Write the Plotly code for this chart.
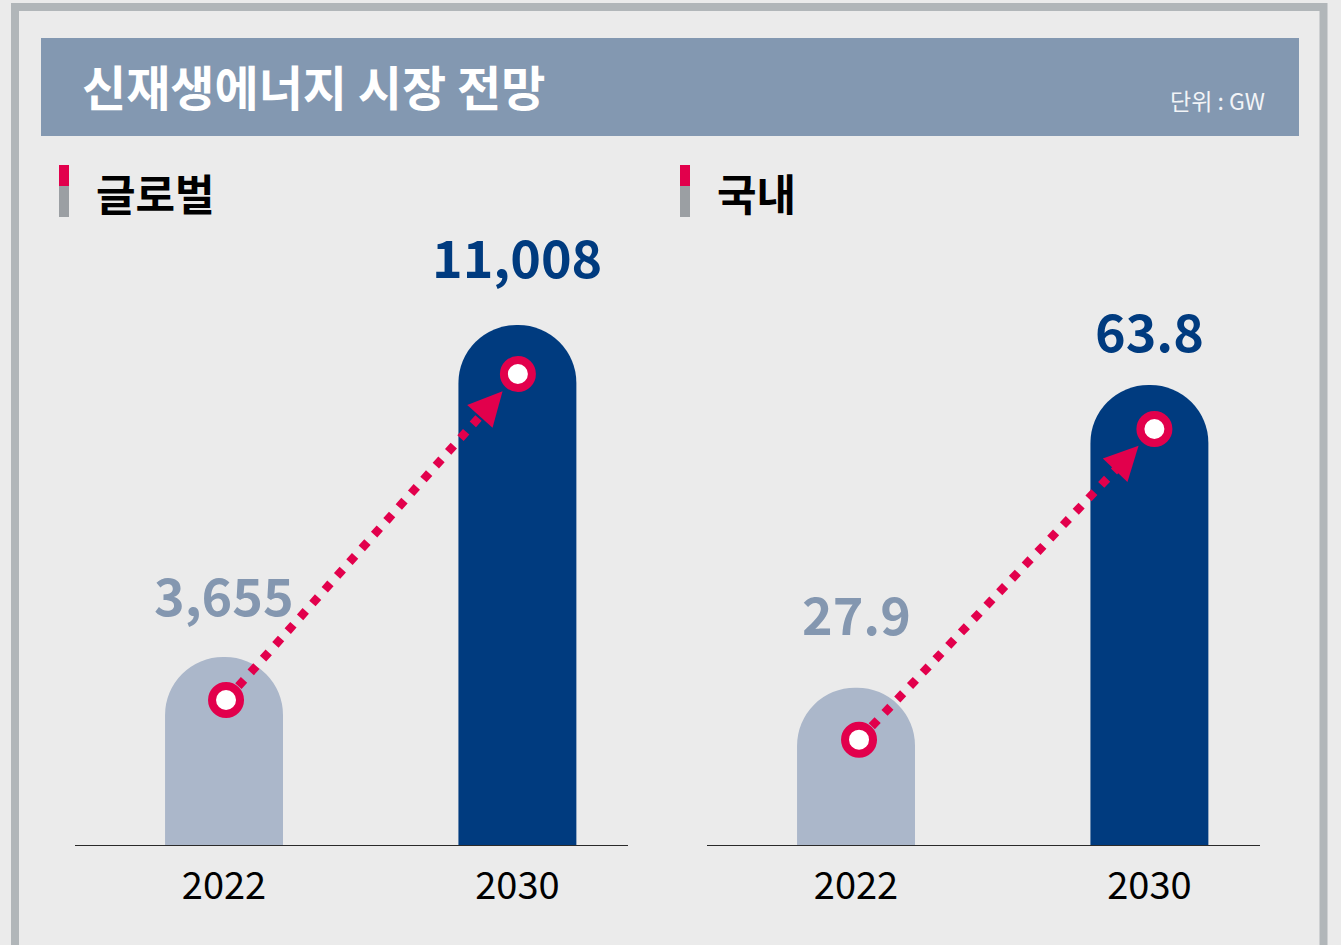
import math
import plotly.graph_objects as go

# ---------------- data ----------------
years = ["2022", "2030"]
global_values = [3655, 11008]
domestic_values = [27.9, 63.8]
global_labels = ["3,655", "11,008"]
domestic_labels = ["27.9", "63.8"]
panel_titles = ["글로벌", "국내"]
chart_title = "신재생에너지 시장 전망"
unit_label = "단위 : GW"

# ---------------- style / geometry ----------------
W, H = 1341, 945
FONT = "Noto Sans CJK KR"
BG = "#ebebeb"
FRAME = "#b1b6b9"
BANNER = "#8398b1"
NAVY = "#003b7f"
LIGHT_BAR = "#abb7ca"
LIGHT_TEXT = "#8497b0"
RED = "#e2004c"
GRAY_MARK = "#9b9fa3"

PLOT_TOP_PX, PLOT_BOT_PX = 230, 845
X_DOMAIN_PX = [(75, 628), (707, 1260)]
X_RANGE = [-0.508, 1.377]
BAR_W = 0.402
# axis floors chosen so bars reproduce the original (non-proportional) drawing
Y_FLOOR = [-509.0, 9.24]
MAX_TOP_PX = [325, 385]
LABEL_SHIFT = [[63, 70], [75, 56]]
RING_DROP = [[43, 49], [52, 44]]
RING_DX = [[2, 0.5], [3, 5]]
RING_SIZE, RING_LINE = 28, 8
STANDOFF = 23
HEAD = 27
DOT_W = 8.5


def fx(px):
    return px / W


def fy(py):
    return 1 - py / H


fig = go.Figure()
annotations = []
shapes = []

# frame and banner
shapes.append(dict(type="rect", xref="paper", yref="paper", x0=fx(15), x1=fx(1323.5), y0=fy(7), y1=fy(960),
                   line=dict(color=FRAME, width=8), fillcolor=BG, layer="below"))
shapes.append(dict(type="rect", xref="paper", yref="paper", x0=fx(41), x1=fx(1299), y0=fy(38), y1=fy(136),
                   line=dict(width=0), fillcolor=BANNER, layer="below"))
annotations.append(dict(xref="paper", yref="paper", x=fx(80), y=fy(85), xanchor="left", yanchor="middle",
                        text=chart_title, showarrow=False,
                        font=dict(family=FONT, size=48, color="white", weight="bold")))
annotations.append(dict(xref="paper", yref="paper", x=fx(1267), y=fy(100), xanchor="right", yanchor="middle",
                        text=unit_label, showarrow=False,
                        font=dict(family=FONT, size=23, color="#f2f4f7")))

panels = [(global_values, global_labels), (domestic_values, domestic_labels)]
heading_x = [(59, 97), (680, 718)]

for p, (vals, labels) in enumerate(panels):
    xa = "x" if p == 0 else "x2"
    ya = "y" if p == 0 else "y2"
    a, b = X_DOMAIN_PX[p]
    floor = Y_FLOOR[p]
    scale = (PLOT_BOT_PX - MAX_TOP_PX[p]) / (max(vals) - floor)  # px per unit
    y_top = floor + (PLOT_BOT_PX - PLOT_TOP_PX) / scale
    xunit = (X_RANGE[1] - X_RANGE[0]) / (b - a)  # data units per px
    xs = list(range(len(years)))
    # bars start well below the visible floor so only their top ends show rounded
    base = floor - 120 / scale

    # heading
    mx, tx = heading_x[p]
    shapes.append(dict(type="rect", xref="paper", yref="paper", x0=fx(mx), x1=fx(mx + 10), y0=fy(165), y1=fy(186),
                       line=dict(width=0), fillcolor=RED, layer="below"))
    shapes.append(dict(type="rect", xref="paper", yref="paper", x0=fx(mx), x1=fx(mx + 10), y0=fy(186), y1=fy(217),
                       line=dict(width=0), fillcolor=GRAY_MARK, layer="below"))
    annotations.append(dict(xref="paper", yref="paper", x=fx(tx - 3), y=fy(192), xanchor="left", yanchor="middle",
                            text=panel_titles[p], showarrow=False,
                            font=dict(family=FONT, size=43, color="black", weight="bold")))

    # bars
    fig.add_trace(go.Bar(x=xs, y=[v - base for v in vals], base=[base] * len(vals), width=BAR_W,
                         marker=dict(color=[LIGHT_BAR, NAVY], cornerradius="50%", line=dict(width=0)),
                         xaxis=xa, yaxis=ya, hoverinfo="skip", showlegend=False))

    # ring positions
    ring_x = [x + d * xunit for x, d in zip(xs, RING_DX[p])]
    ring_y = [v - d / scale for v, d in zip(vals, RING_DROP[p])]
    sx = [a + (x - X_RANGE[0]) / xunit for x in ring_x]
    sy = [PLOT_BOT_PX - (y - floor) * scale for y in ring_y]
    dx, dy = sx[1] - sx[0], sy[1] - sy[0]
    L = math.hypot(dx, dy)
    ux, uy = dx / L, dy / L
    back = STANDOFF + HEAD - 2
    end_x = ring_x[1] - ux * back * xunit
    end_y = ring_y[1] + uy * back / scale

    # dotted connector
    fig.add_trace(go.Scatter(x=[ring_x[0], end_x], y=[ring_y[0], end_y], mode="lines",
                             line=dict(color=RED, width=DOT_W, dash="8.5px,10px"),
                             xaxis=xa, yaxis=ya, hoverinfo="skip", showlegend=False))
    # ring markers
    fig.add_trace(go.Scatter(x=ring_x, y=ring_y, mode="markers",
                             marker=dict(size=RING_SIZE, color="white", line=dict(color=RED, width=RING_LINE)),
                             xaxis=xa, yaxis=ya, hoverinfo="skip", showlegend=False))
    # arrow head
    Ltail = STANDOFF + HEAD + 2
    annotations.append(dict(x=ring_x[1], y=ring_y[1], xref=xa, yref=ya, ax=-ux * Ltail, ay=-uy * Ltail,
                            axref="pixel", ayref="pixel", text="", showarrow=True, arrowhead=2,
                            arrowsize=3.4, arrowwidth=2, arrowcolor=RED, standoff=STANDOFF))
    # value labels
    for i, (v, lab) in enumerate(zip(vals, labels)):
        annotations.append(dict(x=xs[i], y=v, xref=xa, yref=ya, yanchor="middle", xanchor="center",
                                yshift=LABEL_SHIFT[p][i], text=lab, showarrow=False,
                                font=dict(family=FONT, size=52, weight="bold",
                                          color=LIGHT_TEXT if i == 0 else NAVY)))

    axis_x = dict(domain=[fx(a), fx(b)], range=X_RANGE, tickvals=xs, ticktext=years, showgrid=False,
                  zeroline=False, showline=True, linecolor="#2a2a2a", linewidth=1.3, ticks="",
                  tickfont=dict(family=FONT, size=38, color="black"), ticklabelstandoff=7, fixedrange=True)
    axis_y = dict(domain=[fy(PLOT_BOT_PX), fy(PLOT_TOP_PX)], range=[floor, y_top], visible=False,
                  showgrid=False, zeroline=False, fixedrange=True)
    if p == 0:
        fig.update_layout(xaxis=dict(axis_x, anchor="y"), yaxis=dict(axis_y, anchor="x"))
    else:
        fig.update_layout(xaxis2=dict(axis_x, anchor="y2"), yaxis2=dict(axis_y, anchor="x2"))

fig.update_layout(
    width=W, height=H, margin=dict(l=0, r=0, t=0, b=0),
    paper_bgcolor=BG, plot_bgcolor="rgba(0,0,0,0)",
    shapes=shapes, annotations=annotations, showlegend=False,
    font=dict(family=FONT),
)

fig.write_html("out.html", config={"displayModeBar": False},
               post_script="document.body.style.margin='0';document.body.style.background='#ebebeb';"
                           "document.body.style.overflow='hidden';")
